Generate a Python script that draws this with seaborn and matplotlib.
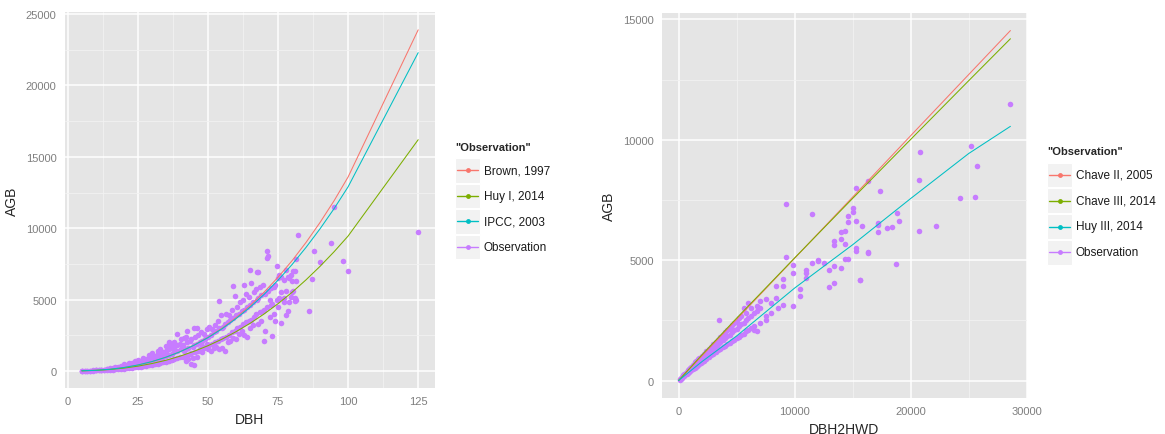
import numpy as np
import pandas as pd
import seaborn as sns
import matplotlib
matplotlib.use("Agg")
import matplotlib.pyplot as plt
from matplotlib.patches import Rectangle
from matplotlib.lines import Line2D

sns.set_style("white")
plt.rcParams['font.family'] = ['Liberation Sans', 'DejaVu Sans']

# ---------------- data: left panel (DBH vs AGB) ----------------
curve_dbh = [5, 10, 15, 20, 25, 30, 35, 40, 45, 50, 55, 60, 65, 70, 75, 80, 85, 90, 95, 100, 125]
brown_1997 = [6.9, 40, 112, 232, 407, 645, 955, 1340, 1803, 2354, 2993, 3733, 4569, 5513, 6562,
              7720, 9005, 10405, 11925, 13590, 23900]
huy_i_2014 = [6.7, 36, 96, 192, 330, 513, 744, 1028, 1368, 1764, 2221, 2745, 3328, 3984, 4707,
              5506, 6383, 7327, 8350, 9450, 16200]
ipcc_2003 = [6.8, 40, 113, 235, 412, 651, 957, 1336, 1793, 2329, 2948, 3659, 4460, 5354, 6355,
             7450, 8656, 9960, 11370, 12900, 22300]

obs_left = {
    5: [5, 8, 12], 6: [10, 14], 7: [12, 18], 8: [18, 25], 9: [22, 32],
    10: [30, 42, 55], 11: [38, 58], 12: [48, 70, 90], 13: [58, 90], 14: [70, 105, 140],
    15: [80, 120, 170], 16: [95, 150, 210], 17: [110, 175, 250], 18: [125, 200, 290],
    19: [140, 235, 330], 20: [160, 250, 370, 500], 21: [180, 290, 420], 22: [200, 330, 470, 580],
    23: [230, 370, 520], 24: [250, 410, 580, 680], 25: [280, 450, 640, 760], 26: [300, 500, 690],
    27: [330, 550, 780, 880], 28: [370, 600, 840], 29: [400, 650, 930, 1080],
    30: [420, 700, 980, 1250], 31: [450, 770, 1050], 32: [500, 840, 1150, 1380],
    33: [540, 900, 1240, 1550], 34: [600, 980, 1350], 35: [640, 1050, 1400, 1720],
    36: [700, 1100, 1500, 1850, 2000], 37: [760, 1200, 1600, 1800], 38: [800, 1300, 1700, 2000],
    39: [900, 1400, 1800, 2550],
    40: [950, 1900], 40.5: [1500, 2200], 41: [1000, 1800], 41.5: [1400, 2300],
    42: [700, 1500, 2400], 42.5: [1100, 2000, 2800], 43: [800, 1600], 43.5: [1200, 2100],
    44: [450, 1250, 2200], 44.5: [900, 1700], 45: [400, 1800, 3000], 45.5: [1300, 2400],
    46: [1000, 1900, 3000], 46.5: [1400, 2500], 47: [1500, 2000], 47.5: [1860, 2700],
    48: [1300, 2100], 48.5: [1600, 2600], 49: [1700, 2200], 49.5: [1860, 2900],
    50: [1500, 2400], 50.5: [1800, 3100], 51: [1400, 2500], 51.5: [1900, 2900],
    52: [1600, 2700], 52.5: [2000, 3200], 53: [1700, 2800], 53.5: [2100, 3500],
    54: [1500, 3000, 4880], 54.5: [2200, 3900], 55: [1600, 3020], 55.5: [2300, 3100],
    56: [1400, 3300], 56.5: [2400, 4000], 57: [2000, 3400], 57.5: [2500, 3950],
    58: [2100, 3600], 58.5: [2700, 4300], 59: [2300, 3700, 5930], 59.5: [2800, 5230],
    60: [2200, 3900], 60.5: [3000, 4500], 61: [2600, 4000], 61.5: [3100, 4800],
    62: [2800, 4200], 62.5: [3300, 5000], 63: [2500, 4300, 6000], 63.5: [3400, 5400],
    64: [2400, 4500], 64.5: [3500, 5200], 65: [3000, 4600, 7090], 65.5: [3600, 6160],
    66: [3200, 4800], 66.5: [3800, 5500], 67: [4000, 5770], 67.5: [5000, 6930],
    68: [3300, 5100, 6930], 68.5: [4100, 5900], 69: [3500, 5300], 69.5: [4200, 6000],
    70: [2090, 4300], 70.5: [2800, 5400], 71: [4500, 7910, 8380], 71.5: [5600, 8030],
    72: [3800, 5000], 72.5: [4600, 5800], 73: [2440, 4700], 73.5: [4000, 5900],
    74: [3500, 6000], 74.5: [5000, 7330], 75: [4500, 6500], 75.5: [5100, 6700],
    76: [3370, 5540, 6600], 77: [4800, 5100, 6400], 78: [3950, 5580, 7090], 78.5: [4190, 6600],
    79: [4800, 6500], 79.5: [5170, 6700], 80: [5540, 6300], 80.5: [5580, 7000],
    81: [4900, 5100, 7000], 81.5: [5000, 6280, 7860], 82: [9500], 86: [4190], 87: [6460],
    88: [8420], 90: [7630], 94: [8960], 95: [11470], 98: [7720], 100: [7020], 125: [9750],
}

# ---------------- data: right panel (DBH2HWD vs AGB) ----------------
curve_x = [0, 2000, 5000, 10000, 15000, 20000, 25000, 28600]
chave_ii_2005 = [0, 1016, 2540, 5080, 7620, 10170, 12710, 14540]
chave_iii_2014 = [0, 1059, 2589, 5092, 7565, 10015, 12455, 14200]
huy_iii_2014 = [0, 780, 1850, 3840, 5640, 7560, 9430, 10560]

obs_right = {
    100: [40, 60], 200: [80, 110], 300: [120, 160], 400: [170, 220], 500: [200, 270],
    600: [250, 320], 700: [290, 370], 800: [330, 420], 900: [360, 460], 1000: [400, 480, 540],
    1100: [430, 560], 1200: [480, 600, 650], 1300: [500, 640], 1400: [540, 700, 750],
    1500: [580, 720, 790], 1600: [620, 780], 1700: [650, 820, 880], 1800: [700, 860, 940],
    1900: [720, 900], 2000: [760, 940, 1020], 2200: [830, 1030, 1120], 2400: [900, 1100, 1220],
    2600: [980, 1200, 1320], 2800: [1050, 1280, 1400], 3000: [1100, 1350, 1500],
    3200: [1200, 1450, 1600], 3400: [1250, 1500, 1700], 3500: [2500], 3600: [1300, 1600, 1800],
    3800: [1400, 1700, 1900], 4000: [1450, 1750, 2000], 4200: [1500, 1850, 2100],
    4400: [1550, 1900, 2200], 4600: [1650, 2000, 2300], 4800: [1700, 2100, 2400],
    5000: [1750, 2150, 2450], 5200: [1800, 2250, 2600], 5400: [1900, 2350, 2700],
    5600: [1950, 2400, 3000], 5800: [2050, 2500, 2800], 6000: [2100, 2600, 3200],
    6200: [2200, 2700, 3000], 6500: [2100, 2260, 2800], 6800: [2060, 2900, 3100],
    7000: [2400, 3000, 3300], 7500: [2500, 2700, 3400], 8000: [2800, 3200], 8400: [3420, 3920],
    8600: [3010], 9000: [3150, 3920, 4200], 9300: [5150, 7315], 9900: [3100, 4460, 4800],
    10500: [3500, 3800], 11000: [4250, 4460, 4600], 11500: [4870, 6930], 12000: [4950, 5000],
    12500: [4900], 13000: [3870, 4600], 13400: [4050, 4750, 5630, 5780],
    14000: [4690, 5900, 6185], 14300: [5050, 5670, 6200], 14600: [5050, 6600, 6850],
    15000: [7000, 7150], 15300: [5400, 5490, 6640, 7980], 15600: [4170, 4180], 15800: [6405],
    16300: [5315, 5357, 8310], 17200: [6160, 6460, 6530], 17400: [7880], 18000: [6350],
    18400: [6390], 18700: [4830], 18800: [6970], 19000: [6640], 20700: [6210, 8350],
    20850: [9497], 22170: [6405], 24240: [7590], 25240: [9730], 25530: [7634], 25730: [8917],
    28600: [11484],
}

left_labels = ["Brown, 1997", "Huy I, 2014", "IPCC, 2003", "Observation"]
right_labels = ["Chave II, 2005", "Chave III, 2014", "Huy III, 2014", "Observation"]
colors = ["#F8766D", "#7CAE00", "#00BFC4", "#C77CFF"]


def obs_frame(d, xname):
    xs, ys = [], []
    for k, v in d.items():
        for a in v:
            xs.append(k)
            ys.append(a)
    return pd.DataFrame({xname: xs, "AGB": ys})


def curve_frame(x, series, labels, xname):
    rows = []
    for lab, vals in zip(labels, series):
        for xi, yi in zip(x, vals):
            rows.append((xi, yi, lab))
    return pd.DataFrame(rows, columns=[xname, "AGB", "model"])


fig = plt.figure(figsize=(11.65, 4.35), dpi=100)
W, H = 1165, 435
ax1 = fig.add_axes([65 / W, 46 / H, 370 / W, 376 / H])
ax2 = fig.add_axes([662 / W, 36 / H, 365 / W, 385 / H])

GREY = "#7F7F7F"


def style(ax, xmaj, xmin, ymaj, ymin, xlim, ylim, xlabel):
    ax.set_facecolor("#E5E5E5")
    for s in ax.spines.values():
        s.set_visible(False)
    ax.set_xticks(xmaj)
    ax.set_xticks(xmin, minor=True)
    ax.set_yticks(ymaj)
    ax.set_yticks(ymin, minor=True)
    ax.set_xlim(*xlim)
    ax.set_ylim(*ylim)
    ax.grid(which="major", color="white", lw=1.1)
    ax.grid(which="minor", color="#F2F2F2", lw=0.6)
    ax.set_axisbelow(True)
    ax.tick_params(which="major", length=4, width=0.8, color=GREY, labelcolor=GREY,
                   labelsize=8, pad=2)
    ax.tick_params(which="minor", length=0)
    ax.set_xlabel(xlabel, fontsize=10, labelpad=4)
    ax.set_ylabel("AGB", fontsize=10, labelpad=5)


# left panel
dfl = obs_frame(obs_left, "DBH")
cl = curve_frame(curve_dbh, [brown_1997, huy_i_2014, ipcc_2003], left_labels[:3], "DBH")
sns.scatterplot(data=dfl, x="DBH", y="AGB", color=colors[3], s=16, linewidth=0, ax=ax1, zorder=2)
sns.lineplot(data=cl, x="DBH", y="AGB", hue="model", palette=colors[:3], estimator=None,
             lw=0.75, legend=False, ax=ax1, zorder=3)
style(ax1, [0, 25, 50, 75, 100, 125], [12.5, 37.5, 62.5, 87.5, 112.5],
      [0, 5000, 10000, 15000, 20000, 25000], [2500, 7500, 12500, 17500, 22500],
      (-1, 131), (-1200, 25150), "DBH")

# right panel
dfr = obs_frame(obs_right, "DBH2HWD")
cr = curve_frame(curve_x, [chave_ii_2005, chave_iii_2014, huy_iii_2014], right_labels[:3], "DBH2HWD")
sns.scatterplot(data=dfr, x="DBH2HWD", y="AGB", color=colors[3], s=16, linewidth=0, ax=ax2, zorder=2)
sns.lineplot(data=cr, x="DBH2HWD", y="AGB", hue="model", palette=colors[:3], estimator=None,
             lw=0.75, legend=False, ax=ax2, zorder=3)
style(ax2, [0, 10000, 20000, 30000], [5000, 15000, 25000],
      [0, 5000, 10000, 15000], [2500, 7500, 12500],
      (-1430, 30030), (-727, 15270), "DBH2HWD")


def legend(x0, ytitle, ytop, rowh, labels):
    fig.text(x0 / W, 1 - ytitle / H, '"Observation"', fontsize=8, fontweight="bold",
             va="center", ha="left")
    for i, (lab, c) in enumerate(zip(labels, colors)):
        yt = ytop + i * rowh
        fig.patches.append(Rectangle((x0 / W, 1 - (yt + rowh - 1) / H), 25 / W, (rowh - 1) / H,
                                     transform=fig.transFigure, facecolor="#F2F2F2",
                                     edgecolor="white", lw=0.8))
        yc = 1 - (yt + (rowh - 1) / 2) / H
        fig.lines.append(Line2D([(x0 + 2) / W, (x0 + 23) / W], [yc, yc], color=c, lw=1.0,
                                transform=fig.transFigure))
        fig.lines.append(Line2D([(x0 + 12.5) / W], [yc], color=c, marker="o", ms=3.5,
                                mew=0, transform=fig.transFigure))
        fig.text((x0 + 29) / W, yc, lab, fontsize=8.5, va="center", ha="left", color="#1a1a1a")


legend(455, 148, 159, 25.5, left_labels)
legend(1047, 152, 163.5, 25.8, right_labels)

fig.savefig("out.png", dpi=100)
